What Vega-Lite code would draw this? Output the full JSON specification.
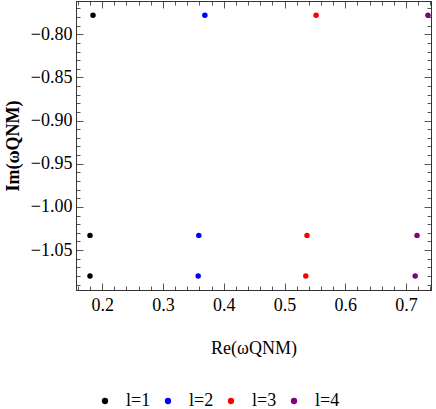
{
  "$schema": "https://vega.github.io/schema/vega-lite/v6.json",
  "width": 355,
  "height": 289,
  "autosize": {"type": "none"},
  "padding": {"left": 76, "top": 1, "right": 5, "bottom": 119},
  "background": "white",
  "data": {
    "values": [
      {"re": 0.185, "im": -0.778, "l": "l=1"},
      {"re": 0.180, "im": -1.033, "l": "l=1"},
      {"re": 0.180, "im": -1.080, "l": "l=1"},
      {"re": 0.369, "im": -0.778, "l": "l=2"},
      {"re": 0.359, "im": -1.033, "l": "l=2"},
      {"re": 0.358, "im": -1.080, "l": "l=2"},
      {"re": 0.552, "im": -0.778, "l": "l=3"},
      {"re": 0.537, "im": -1.033, "l": "l=3"},
      {"re": 0.535, "im": -1.080, "l": "l=3"},
      {"re": 0.736, "im": -0.778, "l": "l=4"},
      {"re": 0.718, "im": -1.033, "l": "l=4"},
      {"re": 0.715, "im": -1.080, "l": "l=4"}
    ]
  },
  "config": {
    "view": {"stroke": "#333333", "strokeWidth": 1},
    "axis": {
      "domainColor": "#333333",
      "tickColor": "#555555",
      "labelFont": "Liberation Serif",
      "labelFontSize": 18,
      "labelColor": "black",
      "titleFont": "Liberation Serif",
      "titleFontSize": 18,
      "titleColor": "black",
      "titleFontWeight": "normal",
      "grid": false
    },
    "legend": {
      "labelFont": "Liberation Serif",
      "labelFontSize": 18,
      "labelColor": "black"
    }
  },
  "layer": [
    {
      "mark": {"type": "circle", "size": 30, "opacity": 1},
      "encoding": {
        "x": {
          "field": "re", "type": "quantitative",
          "scale": {"domain": [0.157, 0.741], "nice": false, "zero": false},
          "axis": {
            "orient": "bottom",
            "title": "Re(ωQNM)",
            "titlePadding": 22,
            "values": [0.16,0.18,0.2,0.22,0.24,0.26,0.28,0.3,0.32,0.34,0.36,0.38,0.4,0.42,0.44,0.46,0.48,0.5,0.52,0.54,0.56,0.58,0.6,0.62,0.64,0.66,0.68,0.7,0.72,0.74],
            "labelExpr": "round(datum.value*100) % 10 == 0 ? format(datum.value, '.1f') : ''",
            "tickSize": {"condition": {"test": "round(datum.value*100) % 10 == 0", "value": -7}, "value": -4},
            "labelPadding": 13,
            "labelFlush": false,
            "labelOverlap": false
          }
        },
        "y": {
          "field": "im", "type": "quantitative",
          "scale": {"domain": [-1.0963, -0.7614], "nice": false, "zero": false},
          "axis": {
            "orient": "left",
            "title": "Im(ωQNM)",
            "titleFontWeight": "bold",
            "titlePadding": 8,
            "values": [-1.09,-1.08,-1.07,-1.06,-1.05,-1.04,-1.03,-1.02,-1.01,-1.0,-0.99,-0.98,-0.97,-0.96,-0.95,-0.94,-0.93,-0.92,-0.91,-0.9,-0.89,-0.88,-0.87,-0.86,-0.85,-0.84,-0.83,-0.82,-0.81,-0.8,-0.79,-0.78,-0.77],
            "labelExpr": "abs(round(datum.value*100)) % 5 == 0 ? format(datum.value, '.2f') : ''",
            "tickSize": {"condition": {"test": "abs(round(datum.value*100)) % 5 == 0", "value": -7}, "value": -4},
            "labelPadding": 11,
            "labelFlush": false,
            "labelOverlap": false
          }
        },
        "color": {
          "field": "l", "type": "nominal",
          "scale": {"domain": ["l=1","l=2","l=3","l=4"], "range": ["#000000","#0000ff","#ff0000","#800080"]},
          "legend": {
            "orient": "none",
            "legendX": 20,
            "legendY": 391,
            "direction": "horizontal",
            "columns": 4,
            "title": null,
            "symbolType": "circle",
            "symbolSize": 40,
            "symbolStrokeWidth": 0,
            "labelOffset": 12,
            "columnPadding": 8
          }
        }
      }
    },
    {
      "mark": {"type": "circle", "size": 30, "opacity": 0},
      "encoding": {
        "x": {
          "field": "re", "type": "quantitative",
          "scale": {"domain": [0.157, 0.741], "nice": false, "zero": false},
          "axis": {
            "orient": "top",
            "title": null,
            "labels": false,
            "values": [0.16,0.18,0.2,0.22,0.24,0.26,0.28,0.3,0.32,0.34,0.36,0.38,0.4,0.42,0.44,0.46,0.48,0.5,0.52,0.54,0.56,0.58,0.6,0.62,0.64,0.66,0.68,0.7,0.72,0.74],
            "tickSize": {"condition": {"test": "round(datum.value*100) % 10 == 0", "value": -7}, "value": -4}
          }
        },
        "y": {
          "field": "im", "type": "quantitative",
          "scale": {"domain": [-1.0963, -0.7614], "nice": false, "zero": false},
          "axis": {
            "orient": "right",
            "title": null,
            "labels": false,
            "values": [-1.09,-1.08,-1.07,-1.06,-1.05,-1.04,-1.03,-1.02,-1.01,-1.0,-0.99,-0.98,-0.97,-0.96,-0.95,-0.94,-0.93,-0.92,-0.91,-0.9,-0.89,-0.88,-0.87,-0.86,-0.85,-0.84,-0.83,-0.82,-0.81,-0.8,-0.79,-0.78,-0.77],
            "tickSize": {"condition": {"test": "abs(round(datum.value*100)) % 5 == 0", "value": -7}, "value": -4}
          }
        },
        "color": {"field": "l", "type": "nominal"}
      }
    }
  ],
  "resolve": {"scale": {"x": "independent", "y": "independent"}}
}
